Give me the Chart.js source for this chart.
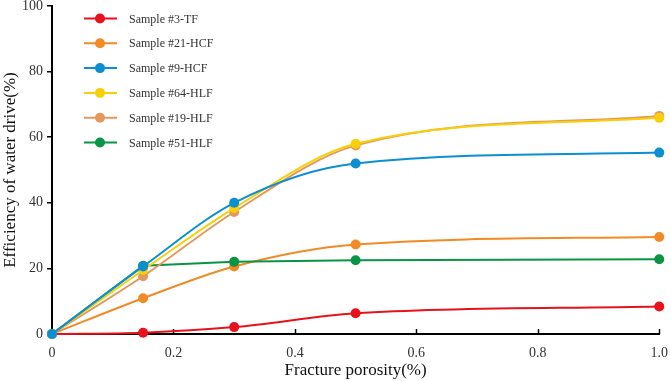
<!DOCTYPE html>
<html>
<head>
<meta charset="utf-8">
<script src="https://cdn.jsdelivr.net/npm/chart.js@4"></script>
<style>
  html, body { margin: 0; padding: 0; background: #fff; }
  #wrap { width: 671px; height: 381px; }
</style>
</head>
<body>
<div id="wrap"><canvas id="chart"></canvas></div>
<script>
// fracture porosity (%)
const porosity = [0, 0.15, 0.3, 0.5, 1.0];

const sampleNames = ['Sample #3-TF', 'Sample #21-HCF', 'Sample #9-HCF', 'Sample #64-HLF', 'Sample #19-HLF', 'Sample #51-HLF'];
const sampleColors = ['#e8121b', '#f28a26', '#0b8fd1', '#f7d009', '#e3995e', '#0a9446'];
// which series sits on top where points overlap (lower = drawn later)
const drawOrder = [6, 5, 1, 2, 3, 4];

// efficiency of water drive (%)
const s3 = [0, 0.4, 2.1, 6.3, 8.4];
const s21 = [0, 10.9, 20.6, 27.3, 29.6];
const s9 = [0, 20.6, 40.0, 52.0, 55.3];
const s64 = [0, 19.5, 38.4, 58.0, 65.9];
const s19 = [0, 17.6, 37.2, 57.5, 66.5];
const s51 = [0, 20.8, 22.0, 22.5, 22.8];
const seriesValues = [s3, s21, s9, s64, s19, s51];

const xTicks = [0, 0.2, 0.4, 0.6, 0.8, 1.0];

const serif = "'Liberation Serif', 'Times New Roman', serif";

const datasets = sampleNames.map((name, i) => ({
    label: name,
    data: porosity.map((x, j) => ({x: x, y: seriesValues[i][j]})),
    borderColor: sampleColors[i],
    backgroundColor: sampleColors[i],
    borderWidth: 2,
    pointRadius: 5,
    pointBorderWidth: 0,
    // #51 bends sharply at 0.15, the others are smooth
    cubicInterpolationMode: i === 5 ? 'default' : 'monotone',
    tension: i === 5 ? 0 : 0.4,
    clip: false,
    order: drawOrder[i]
}));

// legend drawn inside the plot, top-left, one row per series
const insideLegend = {
    id: 'insideLegend',
    afterDraw(chart) {
        const ctx = chart.ctx;
        const area = chart.chartArea;
        ctx.save();
        ctx.font = '12px ' + serif;
        ctx.textBaseline = 'middle';
        chart.data.datasets.forEach((ds, i) => {
            const y = area.top + 12.5 + i * 24.8;
            const x0 = area.left + 32;
            ctx.strokeStyle = ds.borderColor;
            ctx.lineWidth = 2;
            ctx.beginPath();
            ctx.moveTo(x0, y);
            ctx.lineTo(x0 + 33, y);
            ctx.stroke();
            ctx.fillStyle = ds.borderColor;
            ctx.beginPath();
            ctx.arc(x0 + 16, y, 5, 0, Math.PI * 2);
            ctx.fill();
            ctx.fillStyle = '#333';
            ctx.fillText(ds.label, x0 + 45, y + 1);
        });
        ctx.restore();
    }
};

// small x ticks pointing into the plot
const innerXTicks = {
    id: 'innerXTicks',
    beforeDatasetsDraw(chart) {
        const ctx = chart.ctx;
        const xs = chart.scales.x;
        const bottom = chart.chartArea.bottom;
        ctx.save();
        ctx.strokeStyle = '#000';
        ctx.lineWidth = 1.5;
        xTicks.forEach(v => {
            const px = Math.round(xs.getPixelForValue(v)) + 0.5;
            ctx.beginPath();
            ctx.moveTo(px, bottom);
            ctx.lineTo(px, bottom - 5);
            ctx.stroke();
        });
        ctx.restore();
    }
};

new Chart(document.getElementById('chart'), {
    type: 'line',
    data: {datasets: datasets},
    options: {
        responsive: true,
        maintainAspectRatio: false,
        animation: false,
        layout: {padding: {top: 6, right: 10, left: 0, bottom: 0}},
        plugins: {legend: {display: false}, tooltip: {enabled: false}},
        scales: {
            x: {
                type: 'linear',
                min: 0, max: 1,
                afterBuildTicks: scale => { scale.ticks = xTicks.map(v => ({value: v})); },
                afterFit: scale => { scale.height = 47; },
                grid: {display: false},
                border: {display: true, color: '#000', width: 2},
                ticks: {
                    color: '#333', padding: 3,
                    font: {family: serif, size: 14},
                    callback: v => v === 0 ? '0' : v.toFixed(1)
                },
                title: {display: true, text: 'Fracture porosity(%)', color: '#111', font: {family: serif, size: 17}, padding: {top: 0, bottom: 0}}
            },
            y: {
                min: 0, max: 100,
                afterFit: scale => {
                    scale.width = 52;
                    scale.paddingTop = 0;
                    scale.paddingBottom = 0;
                },
                grid: {drawOnChartArea: false, drawTicks: true, tickLength: 5, color: '#000', lineWidth: 1.5},
                border: {display: true, color: '#000', width: 2},
                ticks: {stepSize: 20, color: '#333', padding: 4, font: {family: serif, size: 14}},
                title: {display: true, text: 'Efficiency of water drive(%)', color: '#111', font: {family: serif, size: 17}, padding: {top: 0, bottom: 2}}
            }
        }
    },
    plugins: [insideLegend, innerXTicks]
});
</script>
</body>
</html>
